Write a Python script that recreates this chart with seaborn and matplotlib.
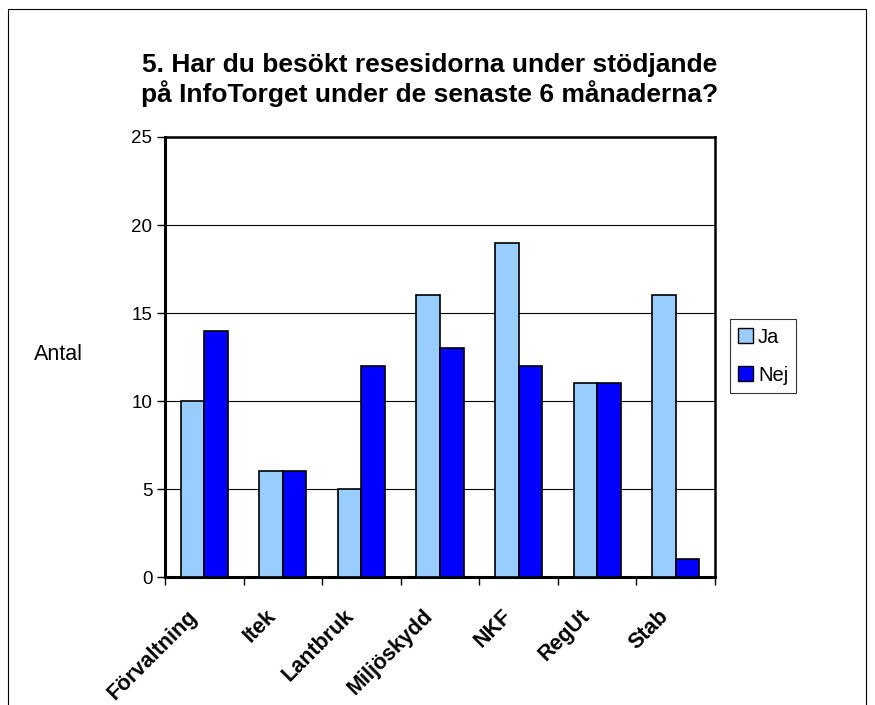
import pandas as pd
import matplotlib.pyplot as plt
import matplotlib.patches as mpatches
from matplotlib.transforms import ScaledTranslation
import seaborn as sns

categories = ["Förvaltning", "Itek", "Lantbruk", "Miljöskydd", "NKF", "RegUt", "Stab"]
ja = [10, 6, 5, 16, 19, 11, 16]
nej = [14, 6, 12, 13, 12, 11, 1]

df = pd.DataFrame({"Avdelning": categories * 2,
                   "Svar": ["Ja"] * len(categories) + ["Nej"] * len(categories),
                   "Antal": ja + nej})

sns.set_theme(style="white", rc={"text.color": "black", "xtick.color": "black",
                                 "ytick.color": "black", "axes.labelcolor": "black"})
plt.rcParams["font.family"] = ["Liberation Sans", "DejaVu Sans"]

fig = plt.figure(figsize=(8.75, 7.05), dpi=100)
ax = fig.add_axes([165 / 875, 1 - 577 / 705, 550 / 875, 440 / 705])

sns.barplot(data=df, x="Avdelning", y="Antal", hue="Svar", order=categories,
            palette={"Ja": "#99CCFF", "Nej": "#0000FF"}, saturation=1, width=0.6, gap=0,
            edgecolor="black", linewidth=1.2, ax=ax, zorder=3)

ax.set_ylim(0, 25)
ax.set_xlim(-0.5, len(categories) - 0.5)
ax.set_yticks([0, 5, 10, 15, 20, 25])
ax.yaxis.grid(True, color="black", linewidth=0.8)
ax.set_axisbelow(True)
for s in ax.spines.values():
    s.set_visible(True)
    s.set_color("black")
    s.set_linewidth(1.8)
ax.spines["left"].set_linewidth(2.2)
ax.spines["bottom"].set_linewidth(2.2)

ax.tick_params(axis="y", direction="out", length=6, width=1, color="black",
               labelsize=13.5, pad=3, left=True)
ax.set_xticks(range(len(categories)))
ax.set_xticklabels(categories, rotation=45, ha="right", va="center",
                   rotation_mode="anchor", fontsize=15.5, fontweight="bold")
ax.tick_params(axis="x", which="major", length=0, pad=26)
for lbl in ax.get_xticklabels():
    lbl.set_transform(lbl.get_transform() + ScaledTranslation(-0.1, 0, fig.dpi_scale_trans))
ax.set_xticks([i - 0.5 for i in range(len(categories) + 1)], minor=True)
ax.tick_params(axis="x", which="minor", direction="out", length=6, width=1,
               color="black", bottom=True)
ax.set_xlabel("")
ax.set_ylabel("")

fig.text(83 / 875, 1 - 355 / 705, "Antal", fontsize=15.5, ha="right", va="center")
fig.text(430 / 875, 1 - 80 / 705,
         "5. Har du besökt resesidorna under stödjande\npå InfoTorget under de senaste 6 månaderna?",
         fontsize=19, fontweight="bold", ha="center", va="center", linespacing=1.12)

leg = ax.legend(loc="center left", bbox_to_anchor=(1.027, 0.502), frameon=True,
                fancybox=False, edgecolor="black", fontsize=14.5, handlelength=0.75,
                handleheight=0.75, handletextpad=0.25, borderpad=0.4,
                borderaxespad=0, labelspacing=0.95)
leg.get_frame().set_linewidth(0.8)
for h in leg.legend_handles:
    h.set_edgecolor("black")
    h.set_linewidth(1)

fig.patches.append(mpatches.Rectangle((8 / 875, -0.05), 858 / 875, 1 - 9 / 705 + 0.05,
                                      transform=fig.transFigure, fill=False,
                                      edgecolor="black", linewidth=0.8))

fig.savefig("out.png", dpi=100)
